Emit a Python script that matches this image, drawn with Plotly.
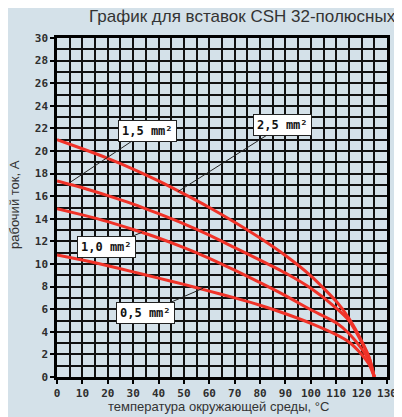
import plotly.graph_objects as go

# ambient temperature, °C
temps = [0, 10, 20, 30, 40, 50, 60, 70, 80, 90, 100, 110, 115, 120, 123, 125]

# operating current, A
i_25 = [21.0, 20.2, 19.35, 18.4, 17.35, 16.2, 15.0, 13.7, 12.3, 10.75, 8.95, 6.7, 5.2, 3.2, 1.7, 0.0]
i_15 = [17.35, 16.75, 16.05, 15.3, 14.45, 13.55, 12.55, 11.45, 10.35, 9.2, 7.85, 6.1, 5.0, 3.1, 1.7, 0.0]
i_10 = [14.9, 14.35, 13.75, 13.05, 12.3, 11.45, 10.5, 9.45, 8.35, 7.2, 5.95, 4.8, 3.85, 2.5, 1.4, 0.0]
i_05 = [10.8, 10.35, 9.85, 9.3, 8.75, 8.2, 7.6, 7.0, 6.35, 5.6, 4.75, 3.75, 3.1, 2.0, 1.1, 0.0]

series_names = ["2,5 mm²", "1,5 mm²", "1,0 mm²", "0,5 mm²"]
series_vals = [i_25, i_15, i_10, i_05]

x_ticks = [0, 10, 20, 30, 40, 50, 60, 70, 80, 90, 100, 110, 120, 130]
y_ticks = [0, 2, 4, 6, 8, 10, 12, 14, 16, 18, 20, 22, 24, 26, 28, 30]

title_text = "График для вставок CSH 32-полюсных"
x_title = "температура окружающей среды, °C"
y_title = "рабочий ток, А"

BG = "#d4e1e9"
RED = "#f03228"
TXT = "#2e2e2e"

# page body has an 8px margin, so the figure sits at (8, 8) in the window
OFF = 8
W, H = 402 - OFF, 417 - OFF
PL, PR, PT, PB = 57 - OFF, 15, 38 - OFF, 40   # plot area in figure pixels
PW = W - PL - PR
PH = H - PT - PB

fig = go.Figure()
for name, vals in zip(series_names, series_vals):
    fig.add_trace(go.Scatter(
        x=temps, y=vals, mode="lines", name=name,
        line=dict(color=RED, width=3, shape="spline", smoothing=0.6),
        showlegend=False, hoverinfo="skip",
    ))

tickfont = dict(family="DejaVu Sans Mono", size=11, color=TXT, weight="bold")

fig.update_layout(
    width=W, height=H,
    margin=dict(l=PL, r=PR, t=PT, b=PB, autoexpand=False),
    paper_bgcolor=BG, plot_bgcolor=BG,
    xaxis=dict(range=[0, 130], tickvals=x_ticks, ticktext=[str(v) for v in x_ticks],
               showgrid=True, gridcolor="#111111", gridwidth=1.5,
               minor=dict(dtick=5, showgrid=True, gridcolor="#111111", gridwidth=1.5),
               showline=True, linecolor="#000000", linewidth=2.5, mirror=True,
               ticks="outside", ticklen=4, tickwidth=2, tickcolor="#000000",
               tickfont=tickfont, zeroline=False),
    yaxis=dict(range=[0, 30], tickvals=y_ticks, ticktext=[str(v) for v in y_ticks],
               showgrid=True, gridcolor="#111111", gridwidth=1.5,
               minor=dict(dtick=1, showgrid=True, gridcolor="#111111", gridwidth=1.5),
               showline=True, linecolor="#000000", linewidth=2.5, mirror=True,
               ticks="outside", ticklen=4, tickwidth=2, tickcolor="#000000",
               tickfont=tickfont, zeroline=False),
)

def px_x(px):  # window pixel -> paper x
    return (px - OFF - PL) / PW

def px_y(py):  # window pixel -> paper y
    return (H - PB - (py - OFF)) / PH

# chart title (right-aligned at the top)
fig.add_annotation(text=title_text, xref="paper", yref="paper",
                   x=px_x(398), y=px_y(17), showarrow=False,
                   xanchor="right", yanchor="middle",
                   font=dict(family="Liberation Sans", size=17, color="#333333"))
fig.add_annotation(text=x_title, xref="paper", yref="paper",
                   x=px_x(218.5), y=px_y(407), showarrow=False,
                   xanchor="center", yanchor="middle",
                   font=dict(family="Liberation Sans", size=13, color="#333333"))
fig.add_annotation(text=y_title, xref="paper", yref="paper",
                   x=px_x(15), y=px_y(205), showarrow=False, textangle=-90,
                   xanchor="center", yanchor="middle",
                   font=dict(family="Liberation Sans", size=13, color="#333333"))

labelfont = dict(family="DejaVu Sans Mono", size=12, color="#111111", weight="bold")
# (label text, target x, target y, label x, label y)
labels = [
    ("2,5 mm²", 47.6, 16.4, 89.0, 22.3),
    ("1,5 mm²", 5.0, 17.2, 35.7, 21.8),
    ("1,0 mm²", 33.4, 12.8, 19.4, 11.5),
    ("0,5 mm²", 57.5, 7.85, 35.0, 5.65),
]
for txt, tx, ty, lx, ly in labels:
    fig.add_annotation(x=tx, y=ty, ax=lx, ay=ly, axref="x", ayref="y",
                       text=txt, showarrow=True, arrowhead=0, arrowwidth=1,
                       arrowcolor="#222222", bgcolor="#ffffff",
                       bordercolor="#222222", borderwidth=1, borderpad=3,
                       font=labelfont)

fig.write_html("out.html")
